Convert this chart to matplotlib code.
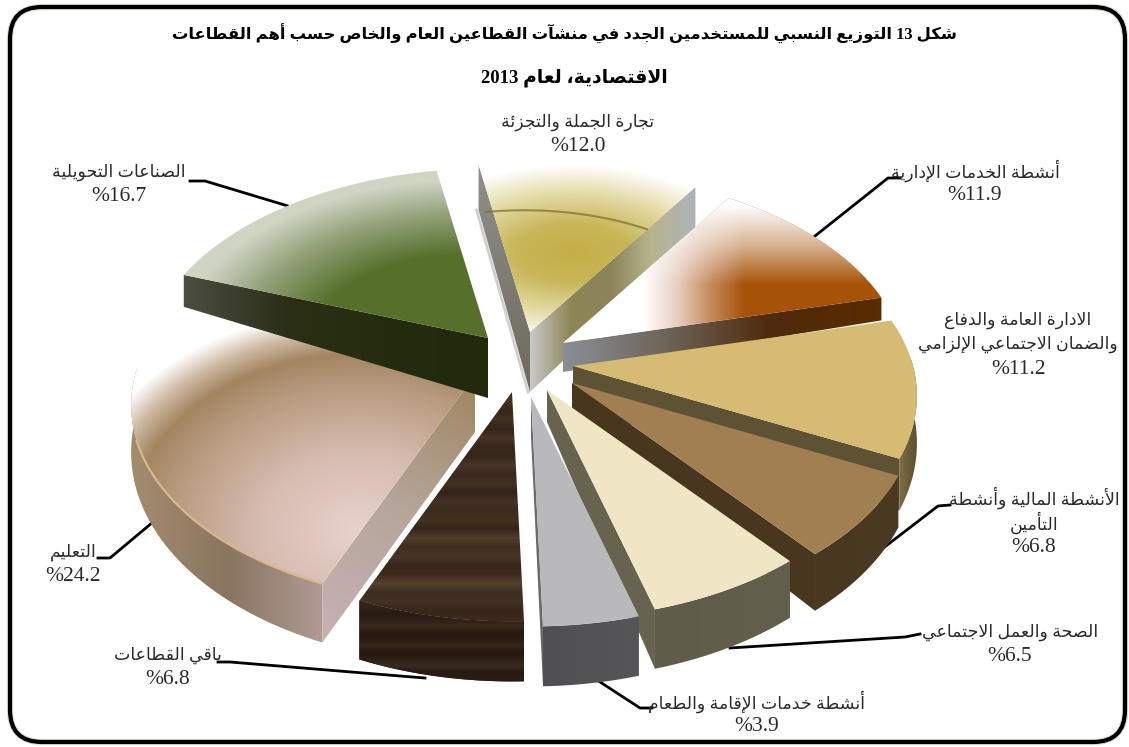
import unicodedata
import numpy as np
import matplotlib
matplotlib.use('Agg')
import matplotlib.pyplot as plt
from matplotlib.colors import LinearSegmentedColormap
from matplotlib.patches import FancyBboxPatch, Polygon

# data
sectors = ['تجارة الجملة والتجزئة', 'أنشطة الخدمات الإدارية',
           'الادارة العامة والدفاع\nوالضمان الاجتماعي الإلزامي',
           'الأنشطة المالية وأنشطة\nالتأمين', 'الصحة والعمل الاجتماعي',
           'أنشطة خدمات الإقامة والطعام', 'باقي القطاعات', 'التعليم', 'الصناعات التحويلية']
shares = [12.0, 11.9, 11.2, 6.8, 6.5, 3.9, 6.8, 24.2, 16.7]
title_lines = ['شكل 13 التوزيع النسبي للمستخدمين الجدد في منشآت القطاعين العام والخاص حسب أهم القطاعات',
               'الاقتصادية، لعام 2013']

START_ANGLE = -10
RX, RY, PERSP = 340, 195, 0.15

# Arabic presentation forms, matplotlib does no shaping
forms = {}
for cp in range(0xFE80, 0xFEFD):
    ch = chr(cp)
    base = unicodedata.normalize('NFKC', ch)
    forms.setdefault(base, {})[unicodedata.name(ch).split()[-2]] = ch


def shape_word(word):
    for alef in 'اأإآ':
        word = word.replace('ل' + alef, '\0' + alef)
    items = []
    for c in word:
        if items and items[-1] == '\0':
            items[-1] = 'ل' + c
        else:
            items.append(c)
    out = []
    for i, c in enumerate(items):
        f = forms.get(c)
        if f is None:
            out.append(c)
            continue
        prev = forms.get(items[i - 1]) if i > 0 else None
        nxt = forms.get(items[i + 1]) if i + 1 < len(items) else None
        join_prev = prev is not None and 'INITIAL' in prev and 'FINAL' in f
        join_next = nxt is not None and 'INITIAL' in f and 'FINAL' in nxt
        if join_prev and join_next:
            out.append(f['MEDIAL'])
        elif join_prev:
            out.append(f['FINAL'])
        elif join_next:
            out.append(f['INITIAL'])
        else:
            out.append(f['ISOLATED'])
    return ''.join(reversed(out))


def shape(text):
    words = []
    for w in text.split(' '):
        words.append(w if w.isdigit() else shape_word(w))
    return ' '.join(reversed(words))


def project(theta, ax_, ay_, r=1.0):
    t = np.radians(theta)
    v = np.cos(t) * r
    return ax_ + RX * np.sin(t) * r / (1 + PERSP * v), ay_ - RY * v / (1 + PERSP * v)


def grad_fill(ax, pts, a, b, stops, kind='linear', zorder=2):
    pts = np.asarray(pts)
    x0, y0 = np.floor(pts.min(axis=0)).astype(int) - 1
    x1, y1 = np.ceil(pts.max(axis=0)).astype(int) + 1
    xx, yy = np.meshgrid(np.arange(x0, x1) + 0.5, np.arange(y0, y1) + 0.5)
    if kind == 'linear':
        d = np.array(b, float) - np.array(a, float)
        t = ((xx - a[0]) * d[0] + (yy - a[1]) * d[1]) / (d @ d)
    else:
        t = np.hypot((xx - a[0]) / b[0], (yy - a[1]) / b[1])
    cmap = LinearSegmentedColormap.from_list('g', stops, N=1024)
    im = ax.imshow(cmap(np.clip(t, 0, 1)), extent=(x0, x1, y1, y0), aspect='auto',
                   interpolation='bilinear', zorder=zorder)
    clip = Polygon(pts, closed=True, transform=ax.transData, fc='none', ec='none')
    ax.add_patch(clip)
    im.set_clip_path(clip)


WOOD_TOP = ['#3e2b1f', '#46331f', '#38261b', '#41301f', '#34231a', '#46332a', '#3a281c', '#36251a',
            '#48352a', '#3b291d', '#43301f', '#33231a', '#453226', '#3c2a1e', '#44311f', '#36251a',
            '#4f3d2c', '#3f2d20', '#483526', '#38271b', '#40291d', '#54422f', '#3d2b1f', '#453226',
            '#37261a', '#40291d']
WOOD_SIDE = ['#33231a', '#281a12', '#2f2018', '#3a281d', '#251810', '#2c1d15', '#362519', '#241710',
             '#2e1f16', '#3a291e', '#271a12', '#2c1d15', '#1f140d']

# apex x, apex y, depth at the apex, depth at the rim, drawn faces, fills
style = {
    0: dict(apex=(530, 332), d=60, rim=1.5, faces={
            'start': ((473, 170), (530, 390), ['#8f8f8c', '#6d6a5c']),
            'end': ((530, 0), (692, 0), ['#c9c9c9', '#8e8658', '#8a8458', '#b8b48c', '#aeb2b6'])},
            top=[((573, 253), (175, 88), ['#c5ae48', '#c8b658', '#e3daa4', '#ffffff'], 'radial')]),
    1: dict(apex=(563, 343), d=29, rim=0.55, faces={
            'end': ((563, 0), (877, 0), ['#8a8f96', '#6e6357', '#4f2a0c', '#5a2c00'])},
            top=[((610, 0), (745, 0), ['#ffffff', '#ffffff', '#e6cfc0', '#c58a5c', '#a65208'], 'linear'),
                 ((0, 205), (0, 285), ['#ffffffff', '#ffffff90', '#ffffff00'], 'linear')]),
    8: dict(apex=(488, 338), d=60, rim=0.8, faces={
            'start': ((183, 0), (488, 0), ['#4c4e44', '#2c3016', '#242c0e', '#222a0e'])},
            top=[((470, 345), (290, 165), [(0, '#56702c'), (0.55, '#56702c'), (0.8, '#93a27a'),
                                           (1, '#cfd4c3')], 'radial')]),
    2: dict(apex=(573, 366), d=40, rim=1.0, faces={
            'end': ((0, 0), (1, 0), ['#5d5234', '#5d5234'])}, side=['#7d6e44', '#5a4d30'],
            top=[((0, 0), (1, 0), ['#d8bb72', '#d8bb72'], 'linear')]),
    7: dict(apex=(475, 375), d=57, rim=1.0, faces={
            'start': ((330, 630), (475, 385), ['#c6b0b2', '#b5a59a', '#a08762'])},
            side=['#a48d6e', '#8a7560', '#b09a94'],
            top=[((360, 530), (290, 220), [(0, '#e8d2cd'), (0.35, '#d6bcb0'), (0.68, '#b4977a'),
                                           (0.8, '#a38560'), (0.9, '#cdb9a2'), (1, '#ffffff')], 'radial')]),
    3: dict(apex=(572, 383), d=40, rim=1.0, faces={
            'end': ((0, 0), (1, 0), ['#49361e', '#49361e'])}, side=['#493820', '#4a3a22'],
            top=[((0, 0), (1, 0), ['#a27f50', '#a27f50'], 'linear')]),
    4: dict(apex=(547, 390), d=32, rim=1.0, faces={
            'end': ((0, 0), (1, 0), ['#66634f', '#66634f'])}, side=['#5f5c4a', '#625f4d'],
            top=[((0, 0), (1, 0), ['#f0e6c6', '#f0e6c6'], 'linear')]),
    6: dict(apex=(512, 392), d=60, rim=1.0, faces={}, side=['#2c1e16', '#281b13'],
            top=[((0, 392), (0, 620), WOOD_TOP, 'linear')]),
    5: dict(apex=(531, 397), d=40, rim=1.0, faces={
            'end': ((0, 0), (1, 0), ['#6a6a6a', '#6a6a6a'])}, side=['#505052', '#565658'],
            top=[((0, 0), (1, 0), ['#b9b9bb', '#b9b9bb'], 'linear')]),
}

# leader lines and label anchors
leaders = {
    0: None,
    1: [(900, 178), (888, 178), (815, 236)],
    2: None,
    3: [(950, 505), (938, 506), (852, 572)],
    4: [(920, 634), (905, 637), (730, 648)],
    5: [(652, 708), (640, 708), (597, 680)],
    6: [(218, 662), (230, 662), (400, 676), (425, 678)],
    7: [(98, 558), (110, 558), (153, 522)],
    8: [(190, 181), (205, 181), (288, 206)],
}
label_pos = {0: (578, 122), 1: (975, 171), 2: (1018, 320), 3: (1034, 498), 4: (1010, 632),
             5: (757, 702), 6: (168, 655), 7: (73, 552), 8: (119, 172)}

fig = plt.figure(figsize=(11.29, 7.47), dpi=100)
ax = fig.add_axes([0, 0, 1, 1])

edges = START_ANGLE + np.cumsum([0] + shares) * 3.6


def rim_depth(theta, s):
    v = np.cos(np.radians(theta))
    return (60 - 15 * (v + 1)) * s['rim']


# back slices first
for i in [0, 1, 8, 2, 7, 3, 4, 6, 5]:
    s = style[i]
    ax_, ay_ = s['apex']
    th = np.linspace(edges[i], edges[i + 1], 80)
    rx_, ry_ = project(th, ax_, ay_)
    dep = rim_depth(th, s)

    # outer wall, only where it faces the viewer
    vis = np.cos(np.radians(th)) < 0.05
    if vis.any() and 'side' in s:
        wall = list(zip(rx_[vis], ry_[vis])) + list(zip(rx_[vis][::-1], (ry_ + dep)[vis][::-1]))
        x_a, x_b = rx_[vis].min(), rx_[vis].max()
        grad_fill(ax, wall, (x_a, 0), (x_b + 1, 0), s['side'], zorder=2 + i * 0.01)

    # cut faces
    for name, (a, b, stops) in s['faces'].items():
        k = 0 if name == 'start' else -1
        face = [(ax_, ay_), (rx_[k], ry_[k]), (rx_[k], ry_[k] + dep[k]), (ax_, ay_ + s['d'])]
        grad_fill(ax, face, a, b, stops, zorder=2 + i * 0.01)

    # top surface
    top = [(ax_, ay_)] + list(zip(rx_, ry_))
    for a, b, stops, kind in s['top']:
        grad_fill(ax, top, a, b, stops, kind=kind, zorder=2 + i * 0.01)

    if i == 6:
        wall = list(zip(rx_, ry_)) + list(zip(rx_[::-1], (ry_ + dep)[::-1]))
        grad_fill(ax, wall, (0, 607), (0, 685), WOOD_SIDE, zorder=2 + i * 0.01)
    if i == 7:
        ax.plot(rx_[:45], ry_[:45], color='#d8b88c', lw=1.6, zorder=2.2)
    if i == 0:
        # reflected arc and soft shadow on the trade slice
        arc_x, arc_y = project(th, ax_, ay_, r=0.72)
        ax.plot(arc_x - 6, arc_y + 5, color='#7d7430', lw=1.5, alpha=0.75, zorder=2.1)
        ax.plot([rx_[0] - 2, ax_ - 2], [ry_[0] + dep[0], ay_ + s['d']], color='#777777', lw=2,
                alpha=0.35, zorder=1.9)

# leader lines
for i, pts in leaders.items():
    if pts:
        ax.plot(*zip(*pts), color='black', lw=2, solid_joinstyle='round', zorder=1.5)

# labels
label_font = ['Liberation Serif', 'DejaVu Sans']
for i, name in enumerate(sectors):
    x, y = label_pos[i]
    lines = name.split('\n')
    for j, line in enumerate(lines):
        ax.text(x, y + 24.5 * j, shape(line), ha='center', va='center', fontsize=12.5,
                family=label_font, color='#2a2a2a', zorder=5)
    ax.text(x, y + 24.5 * len(lines), f'%{shares[i]:.1f}', ha='center', va='center',
            fontsize=15.5, family=label_font, color='#2a2a2a', zorder=5)

# title
for line, x, y, size in zip(title_lines, [565, 574], [34, 78], [11.8, 13.5]):
    ax.text(x, y, shape(line), ha='center', va='center', fontsize=size, fontweight='bold',
            family=label_font, color='black', zorder=5)

# frame
for lw, col in [(4.5, '#dcdcd4'), (3, 'black')]:
    ax.add_patch(FancyBboxPatch((40, 37), 1055, 675, boxstyle='round,pad=30,rounding_size=32',
                                fc='none', ec=col, lw=lw, zorder=6))

ax.set_xlim(0, 1129)
ax.set_ylim(747, 0)
ax.axis('off')
fig.savefig('out.png', dpi=100)
